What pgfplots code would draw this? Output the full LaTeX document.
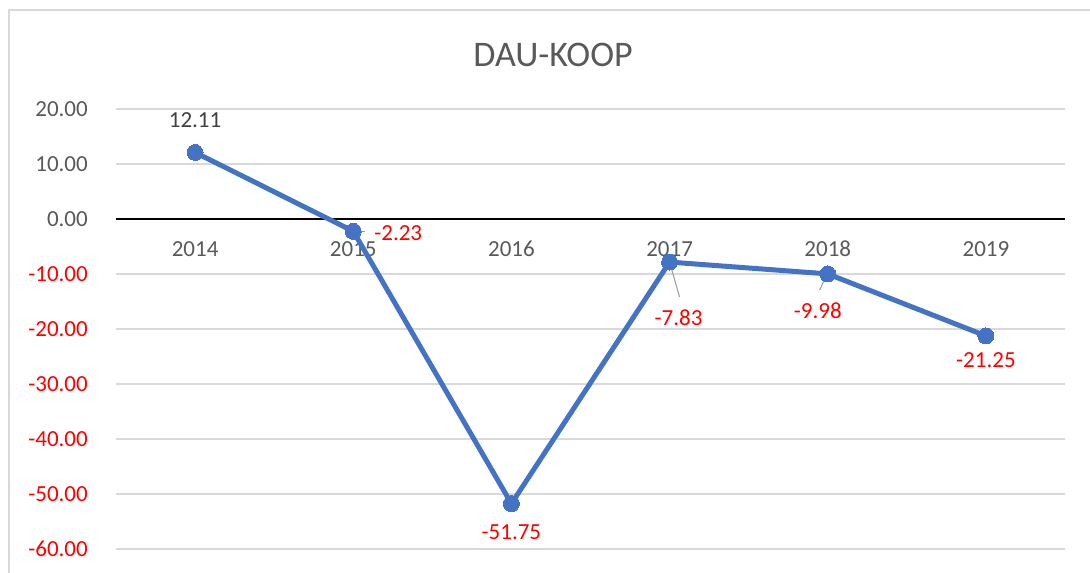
\documentclass[border=0pt]{standalone}
\usepackage{pgfplots}
\pgfplotsset{compat=1.18}
\usepackage{pgfplotstable}
\usepackage{fontspec}
\setmainfont{Carlito}
\definecolor{linblue}{HTML}{4472C4}
\definecolor{tickgray}{HTML}{595959}
\definecolor{lblgray}{HTML}{404040}
\definecolor{gridgray}{HTML}{D9D9D9}
\pgfplotstableread{
x y dx dy isneg lbl
0 12.11 0 32 0 12.11
1 -2.23 45 -2 1 -2.23
2 -51.75 0 -29 1 -51.75
3 -7.83 9 -56 1 -7.83
4 -9.98 -10 -37 1 -9.98
5 -21.25 0 -24 1 -21.25
}\daudata
\begin{document}
\begin{tikzpicture}
\useasboundingbox (0pt,0pt) rectangle (1090pt,-573pt);
\draw[gridgray, line width=1.2pt] (9pt,-10pt) rectangle (1300pt,-800pt);
\node[text=tickgray, font=\fontsize{36}{40}\selectfont] at (553pt,-55pt) {DAU-KOOP};
\begin{axis}[
  at={(116pt,-549pt)}, anchor=south west,
  scale only axis, width=949pt, height=440pt,
  xmin=-0.5, xmax=5.5, ymin=-60, ymax=20,
  axis x line=middle, axis y line=left,
  x axis line style={-, black, line width=1.8pt},
  y axis line style={draw=none},
  major tick length=0pt,
  xtick={0,1,2,3,4,5},
  xticklabels={2014,2015,2016,2017,2018,2019},
  ytick={-60,-50,-40,-30,-20,-10,0,10,20},
  yticklabels={\textcolor{red}{-60.00},\textcolor{red}{-50.00},\textcolor{red}{-40.00},\textcolor{red}{-30.00},\textcolor{red}{-20.00},\textcolor{red}{-10.00},0.00,10.00,20.00},
  ticklabel style={font=\fontsize{23}{27}\selectfont, text=tickgray},
  xticklabel style={anchor=center, yshift=-30pt},
  yticklabel style={anchor=east, inner sep=0pt, xshift=-28pt},
  ymajorgrids, grid style={draw=gridgray, line width=1.5pt},
  clip=false,
]
\draw[gray!80, line width=1pt] (axis cs:1.0,-2.23) -- (axis cs:1.076,-2.23);
\draw[gray!80, line width=1pt] (axis cs:3.0,-7.83) -- (axis cs:3.063,-14.18);
\draw[gray!80, line width=1pt] (axis cs:3.99,-10.3) -- (axis cs:3.949,-12.9);
\addplot[linblue, line width=5pt, mark=*, mark size=8pt,
  mark options={fill=linblue, draw=linblue, line width=0pt},
  point meta=explicit symbolic,
  visualization depends on={\thisrow{dx} \as \dx},
  visualization depends on={\thisrow{dy} \as \dy},
  visualization depends on={\thisrow{isneg} \as \isneg},
  nodes near coords={\ifdim\isneg pt>0.5pt\color{red}\else\color{lblgray}\fi\pgfplotspointmeta},
  every node near coord/.append style={anchor=center, xshift=\dx pt, yshift=\dy pt, font=\fontsize{23}{27}\selectfont},
] table[x=x, y=y, meta=lbl] {\daudata};
\end{axis}
\end{tikzpicture}
\end{document}
